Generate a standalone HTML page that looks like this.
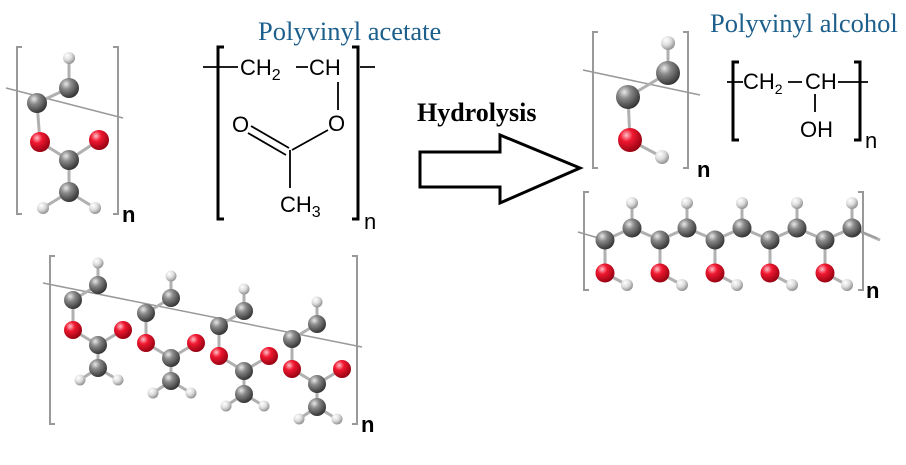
<!DOCTYPE html>
<html><head><meta charset="utf-8"><style>
html,body{margin:0;padding:0;background:#fff;width:906px;height:465px;overflow:hidden}
svg{display:block}
.t{font-family:"Liberation Serif",serif;fill:#1d5f8c;font-size:26.5px}
.s{font-family:"Liberation Sans","DejaVu Sans",sans-serif;fill:#000;font-size:22px}
</style></head><body>
<svg id="s" width="906" height="465" viewBox="0 0 906 465" xmlns="http://www.w3.org/2000/svg">
<defs>
<radialGradient id="gC" cx="0.35" cy="0.3" r="0.75"><stop offset="0" stop-color="#e8e8e8"/><stop offset="0.35" stop-color="#8a8a8a"/><stop offset="1" stop-color="#2e2e2e"/></radialGradient>
<radialGradient id="gO" cx="0.35" cy="0.3" r="0.75"><stop offset="0" stop-color="#ffc0c8"/><stop offset="0.35" stop-color="#f01830"/><stop offset="1" stop-color="#900010"/></radialGradient>
<radialGradient id="gH" cx="0.35" cy="0.3" r="0.75"><stop offset="0" stop-color="#ffffff"/><stop offset="0.5" stop-color="#dcdcdc"/><stop offset="1" stop-color="#8a8a8a"/></radialGradient>
</defs>
<g id="bonds" stroke="#b0b0b0" stroke-width="3" fill="none"></g>
<g id="atoms"></g>
<g stroke="#999" stroke-width="2" fill="none">
<path d="M22 47H17V214H22M113 47H118V214H113"/>
<path d="M598 32H593V168H598M683 32H688V168H683"/>
<path d="M589 192H584V290H589M858 192H863V290H858"/>
<path d="M55 256H50V424H55M352 256H357V424H352"/>
</g>
<g stroke="#000" stroke-width="3" fill="none">
<path d="M224 47H218V219H224M352 47H358V219H352"/>
<path d="M739 62H733V140H739M854 62H860V140H854"/>
</g>
<g stroke="#000" stroke-width="1.8" fill="none">
<path d="M203 67H238M296 67H308M360 67H375M338 82V110M328 130L292 150M251 126L289 148M248 133L286 155M290 150V188"/>
<path d="M727 82H743M788 82H802M838 82H868M815 94V112"/>
</g>
<text class="s" x="240" y="75">CH<tspan font-size="16" dy="5">2</tspan></text>
<text class="s" x="309" y="75">CH</text>
<text class="s" x="328" y="131">O</text>
<text class="s" x="232" y="132">O</text>
<text class="s" x="280" y="212">CH<tspan font-size="16" dy="5">3</tspan></text>
<text class="s" x="364" y="229" font-size="20">n</text>
<text class="s" x="122" y="222" font-size="17" font-weight="bold" fill="#333">n</text>
<text class="s" x="743" y="89" font-size="20">CH<tspan font-size="14" dy="5">2</tspan></text>
<text class="s" x="805" y="89" font-size="20">CH</text>
<text class="s" x="800" y="137" font-size="20">OH</text>
<text class="s" x="865" y="148" font-size="19">n</text>
<text class="s" x="697" y="177" font-size="17" font-weight="bold" fill="#333">n</text>
<text class="s" x="866" y="298" font-size="13" font-weight="bold" fill="#333">n</text>
<text class="s" x="361" y="432" font-size="13" font-weight="bold" fill="#333">n</text>
<text class="t" x="258" y="40">Polyvinyl acetate</text>
<text class="t" x="710" y="32">Polyvinyl alcohol</text>
<text x="417" y="121" font-family="Liberation Serif,serif" font-weight="bold" font-size="26">Hydrolysis</text>
<path d="M420 152H500V135L580 168L500 203V187H420Z" fill="none" stroke="#000" stroke-width="3" stroke-linejoin="miter"/>
</svg>
<script>
var B=document.getElementById('bonds'),A=document.getElementById('atoms'),ns='http://www.w3.org/2000/svg';
function L(x1,y1,x2,y2,thin){var l=document.createElementNS(ns,'line');l.setAttribute('x1',x1);l.setAttribute('y1',y1);l.setAttribute('x2',x2);l.setAttribute('y2',y2);if(thin){l.setAttribute('stroke','#999');l.setAttribute('stroke-width','1.5');}B.appendChild(l);}
function C(x,y,t,r){var c=document.createElementNS(ns,'circle');c.setAttribute('cx',x);c.setAttribute('cy',y);c.setAttribute('r',r||(t=='H'?6:10));c.setAttribute('fill','url(#g'+t+')');A.appendChild(c);}
L(6,88,123,118,1);
[[69,58,69,88],[69,88,37,103],[37,103,40,142],[40,142,69,160],[69,160,99,140],[69,160,69,192],[69,192,43,208],[69,192,95,208]].forEach(function(a){L.apply(null,a)});
C(69,58,'H');C(69,88,'C');C(37,103,'C');C(40,142,'O');C(99,140,'O');C(69,160,'C');C(69,192,'C');C(43,208,'H');C(95,208,'H');
L(583,70,700,95,1);
[[668,43,668,73],[668,73,628,97],[628,97,630,140],[630,140,662,157]].forEach(function(a){L.apply(null,a)});
C(668,43,'H',7);C(668,73,'C',12);C(628,97,'C',12);C(630,140,'O',12);C(662,157,'H',7);
L(578,232,605,240,1);
for(var i=0;i<5;i++){var x=605+i*55;L(x,240,x+27,228);L(x+27,228,x+55,240);L(x+27,228,x+27,203);L(x,240,x,273);L(x,273,x+22,285);}
L(852,228,877,238,1);
for(var i=0;i<5;i++){var x=605+i*55;C(x+27,203,'H',6);C(x+27,228,'C',9.5);C(x,240,'C',9.5);C(x,273,'O',9.5);C(x+22,285,'H',6);}
L(43,283,362,347,1);
for(var i=0;i<4;i++){var dx=i*73,dy=i*13,f=function(x,y){return[x+dx,y+dy]};
 var c1=f(73,300),c2=f(98,285),h=f(98,263),o=f(73,330),o2=f(123,330),c=f(98,345),c3=f(98,368),h1=f(80,380),h2=f(118,380);
 L(c1[0],c1[1],c2[0],c2[1]);L(c2[0],c2[1],h[0],h[1]);L(c1[0],c1[1],o[0],o[1]);L(o[0],o[1],c[0],c[1]);L(c[0],c[1],o2[0],o2[1]);L(c[0],c[1],c3[0],c3[1]);L(c3[0],c3[1],h1[0],h1[1]);L(c3[0],c3[1],h2[0],h2[1]);
 C(h[0],h[1],'H',5.5);C(c2[0],c2[1],'C',9);C(c1[0],c1[1],'C',9);C(o[0],o[1],'O',9);C(o2[0],o2[1],'O',9);C(c[0],c[1],'C',9);C(c3[0],c3[1],'C',9);C(h1[0],h1[1],'H',5.5);C(h2[0],h2[1],'H',5.5);}
</script>
</body></html>
